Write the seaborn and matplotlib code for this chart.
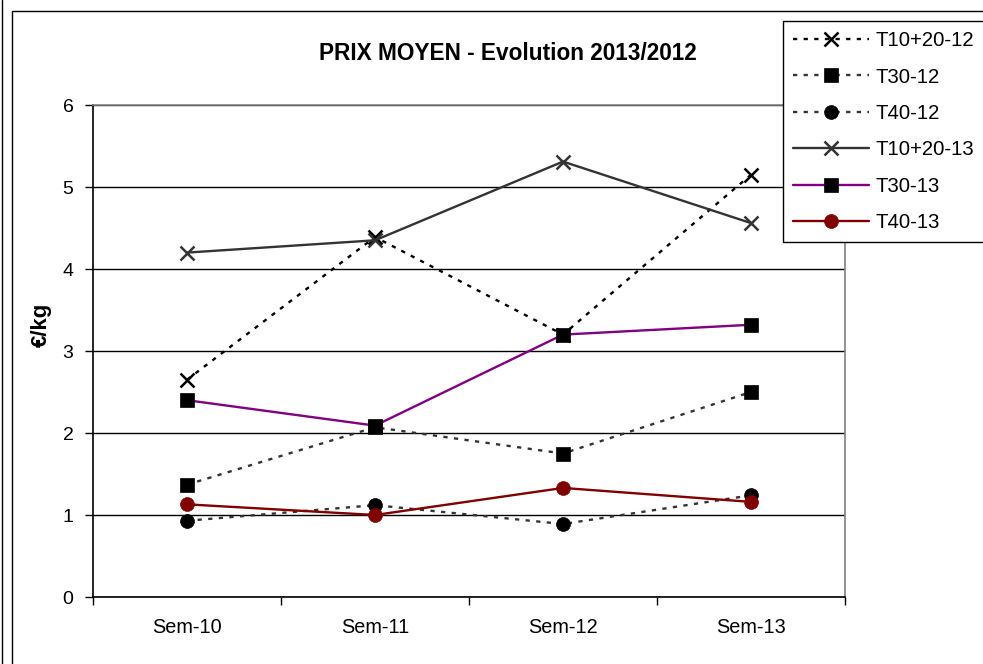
import matplotlib
matplotlib.use("Agg")
import matplotlib.pyplot as plt
import seaborn as sns
import pandas as pd
from matplotlib.lines import Line2D

categories = ["Sem-10", "Sem-11", "Sem-12", "Sem-13"]
t1020_12 = [2.65, 4.39, 3.20, 5.15]
t30_12 = [1.37, 2.07, 1.75, 2.50]
t40_12 = [0.93, 1.12, 0.89, 1.24]
t1020_13 = [4.20, 4.35, 5.31, 4.56]
t30_13 = [2.40, 2.09, 3.20, 3.32]
t40_13 = [1.13, 1.00, 1.33, 1.16]
series_names = ["T10+20-12", "T30-12", "T40-12", "T10+20-13", "T30-13", "T40-13"]
series_values = [t1020_12, t30_12, t40_12, t1020_13, t30_13, t40_13]
title = "PRIX MOYEN - Evolution 2013/2012"
ylabel = "€/kg"
yticks = [0, 1, 2, 3, 4, 5, 6]

sns.set_theme(style="white")
plt.rcParams["font.family"] = ["Liberation Sans", "DejaVu Sans"]
plt.rcParams["text.color"] = "black"
plt.rcParams["axes.labelcolor"] = "black"
plt.rcParams["xtick.color"] = "black"
plt.rcParams["ytick.color"] = "black"

dot = (0, (1.8, 2.7))
styles = {
    "T10+20-12": dict(color="black", ls=dot, marker="x", mfc="black", mec="black", mew=1.8, ms=10),
    "T30-12": dict(color="#333333", ls=dot, marker="s", mfc="black", mec="black", mew=0.5, ms=10),
    "T40-12": dict(color="#333333", ls=dot, marker="o", mfc="black", mec="black", mew=0.5, ms=10),
    "T10+20-13": dict(color="#333333", ls="-", marker="x", mfc="#333333", mec="#333333", mew=1.8, ms=10),
    "T30-13": dict(color="#800080", ls="-", marker="s", mfc="black", mec="black", mew=0.5, ms=10),
    "T40-13": dict(color="#800000", ls="-", marker="o", mfc="#800000", mec="#800000", mew=0.5, ms=10),
}

rows = []
for name, vals in zip(series_names, series_values):
    for i, (c, v) in enumerate(zip(categories, vals)):
        rows.append({"series": name, "pos": i, "cat": c, "value": v})
df = pd.DataFrame(rows)

fig = plt.figure(figsize=(9.83, 6.64), dpi=100)
ax = fig.add_axes([93 / 983, 1 - 597 / 664, (845 - 93) / 983, (597 - 105) / 664])

handles = []
for name in series_names:
    st = styles[name]
    sub = df[df["series"] == name]
    sns.lineplot(data=sub, x="pos", y="value", ax=ax, color=st["color"], linestyle=st["ls"],
                 linewidth=1.7, marker=st["marker"], markerfacecolor=st["mfc"],
                 markeredgecolor=st["mec"], markeredgewidth=st["mew"], markersize=st["ms"],
                 legend=False, zorder=3)
    handles.append(Line2D([], [], color=st["color"], linestyle=st["ls"], linewidth=1.7,
                          marker=st["marker"], markerfacecolor=st["mfc"], markeredgecolor=st["mec"],
                          markeredgewidth=st["mew"], markersize=st["ms"]))

ax.set_xlim(-0.5, len(categories) - 0.5)
ax.set_ylim(yticks[0], yticks[-1])
ax.set_xticks(range(len(categories)))
ax.set_xticklabels(categories)
ax.set_xticks([i - 0.5 for i in range(len(categories) + 1)], minor=True)
ax.set_yticks(yticks)
ax.tick_params(axis="x", which="major", length=0, pad=15, labelsize=14.3, colors="black")
ax.tick_params(axis="x", which="minor", length=6, width=1, direction="out", color="black", bottom=True)
ax.tick_params(axis="y", which="major", length=6, width=1, direction="out", color="black", left=True, pad=8, labelsize=14)
ax.set_xlabel("")
ax.set_ylabel(ylabel, fontsize=16, fontweight="bold")
ax.yaxis.set_label_coords((52 - 93) / 752, (597 - 325) / 492)
ax.yaxis.grid(True, color="black", linewidth=1)
ax.set_axisbelow(True)
for s in ["top", "right"]:
    ax.spines[s].set_color("#808080")
    ax.spines[s].set_linewidth(1.2)
for s in ["left", "bottom"]:
    ax.spines[s].set_color("black")
    ax.spines[s].set_linewidth(1.2)

fig.text(508 / 983, 1 - 53 / 664, title, ha="center", va="center", fontsize=16.3, fontweight="bold")

leg = fig.legend(handles, series_names, loc="upper left", bbox_to_anchor=(783 / 983, 1 - 21 / 664),
                 borderaxespad=0, fontsize=14.6, handlelength=3.75, handletextpad=0.3,
                 labelspacing=0.86, borderpad=0.5, frameon=True, fancybox=False, framealpha=1)
leg.get_frame().set_edgecolor("black")
leg.get_frame().set_linewidth(1)

# outer chart frame
fig.add_artist(Line2D([1.5 / 983, 1.5 / 983], [0, 1], transform=fig.transFigure, color="black", lw=1))
fig.add_artist(Line2D([11.5 / 983, 11.5 / 983, 1.01], [0, 1 - 10.5 / 664, 1 - 10.5 / 664],
                      transform=fig.transFigure, color="black", lw=1))

fig.savefig("out.png", dpi=100)
